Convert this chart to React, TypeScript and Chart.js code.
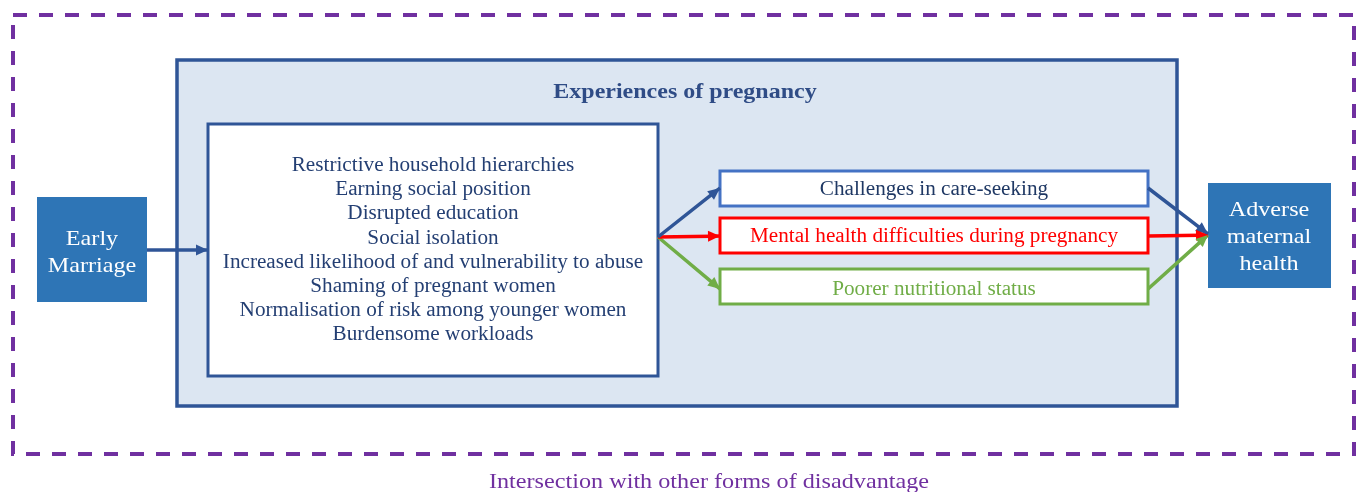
import React, { useEffect, useRef } from "react";
import { Chart, registerables } from "chart.js";

Chart.register(...registerables);

// Diagram coordinate space (matches the picture, y grows downward)
const spaceX = [0, 1359];
const spaceY = [0, 492];

// Dashed outer frame
const frameX = [13, 1354];
const frameY = [15, 454];
const frameLabel = "Intersection with other forms of disadvantage";
const frameLabelAt = [709, 482];

// Boxes: [x0, y0, x1, y1]
const boxNames = ["pregnancy", "factors", "early", "adverse", "care", "mental", "nutrition"];
const boxX0 = [177, 208, 37, 1208, 720, 720, 720];
const boxY0 = [60, 124, 197, 183, 171, 218, 269];
const boxX1 = [1177, 658, 147, 1331, 1148, 1148, 1148];
const boxY1 = [406, 376, 302, 288, 206, 253, 304];
const boxFill = ["#DCE6F2", "#FFFFFF", "#2E75B6", "#2E75B6", "#FFFFFF", "#FFFFFF", "#FFFFFF"];
const boxStroke = ["#2F5597", "#2F5597", null, null, "#4472C4", "#FF0000", "#70AD47"];
const boxStrokeWidth = [3.5, 3, 0, 0, 3, 3, 3];

// Text blocks
const titleText = "Experiences of pregnancy";
const titleAt = [685, 92];
const factorLines = [
  "Restrictive household hierarchies",
  "Earning social position",
  "Disrupted education",
  "Social isolation",
  "Increased likelihood of and vulnerability to abuse",
  "Shaming of pregnant women",
  "Normalisation of risk among younger women",
  "Burdensome workloads",
];
const factorX = 433;
const factorY = [166, 190, 214, 239, 263, 287, 311, 335];
const earlyLines = ["Early", "Marriage"];
const earlyX = 92;
const earlyY = [239, 266];
const adverseLines = ["Adverse", "maternal", "health"];
const adverseX = 1269;
const adverseY = [210, 237, 264];
const outcomeLabels = [
  "Challenges in care-seeking",
  "Mental health difficulties during pregnancy",
  "Poorer nutritional status",
];
const outcomeX = 934;
const outcomeY = [190, 237, 290];
const outcomeColors = ["#1F3864", "#FF0000", "#70AD47"];

// Arrows: start (x,y) -> end (x,y)
const arrowFromX = [147, 658, 658, 658, 1148, 1148, 1148];
const arrowFromY = [250, 237, 237, 237, 188, 236, 289];
const arrowToX = [208, 720, 720, 720, 1208, 1208, 1208];
const arrowToY = [250, 188, 236, 289, 234, 235, 235];
const arrowColors = ["#2F5597", "#2F5597", "#FF0000", "#70AD47", "#2F5597", "#FF0000", "#70AD47"];

const SERIF = "'Liberation Serif', 'DejaVu Serif', serif";

function stretchedText(ctx: any, text: string, x: number, y: number, sx: number) {
  ctx.save();
  ctx.translate(x, y);
  ctx.scale(sx, 1);
  ctx.fillText(text, 0, 0);
  ctx.restore();
}

const diagramPlugin = {
  id: "diagram",
  beforeDatasetsDraw(chart: any) {
    const { ctx, scales } = chart;
    const px = (v: number) => scales.x.getPixelForValue(v);
    const py = (v: number) => scales.y.getPixelForValue(v);
    ctx.save();
    // dashed frame
    ctx.strokeStyle = "#7030A0";
    ctx.lineWidth = 4;
    ctx.setLineDash([14, 12]);
    ctx.strokeRect(px(frameX[0]), py(frameY[0]), px(frameX[1]) - px(frameX[0]), py(frameY[1]) - py(frameY[0]));
    ctx.setLineDash([]);
    // boxes
    for (let i = 0; i < boxNames.length; i++) {
      const x0 = px(boxX0[i]);
      const y0 = py(boxY0[i]);
      const w = px(boxX1[i]) - x0;
      const h = py(boxY1[i]) - y0;
      ctx.fillStyle = boxFill[i];
      ctx.fillRect(x0, y0, w, h);
      if (boxStroke[i]) {
        ctx.strokeStyle = boxStroke[i] as string;
        ctx.lineWidth = boxStrokeWidth[i];
        ctx.strokeRect(x0, y0, w, h);
      }
    }
    // texts
    ctx.textAlign = "center";
    ctx.textBaseline = "middle";
    ctx.fillStyle = "#2F4C86";
    ctx.font = `bold 22px ${SERIF}`;
    stretchedText(ctx, titleText, px(titleAt[0]), py(titleAt[1]), 1.09);
    ctx.font = `20px ${SERIF}`;
    ctx.fillStyle = "#243F73";
    factorLines.forEach((t, i) => stretchedText(ctx, t, px(factorX), py(factorY[i]), 1.06));
    ctx.font = `22px ${SERIF}`;
    ctx.fillStyle = "#FFFFFF";
    earlyLines.forEach((t, i) => stretchedText(ctx, t, px(earlyX), py(earlyY[i]), 1.1));
    adverseLines.forEach((t, i) => stretchedText(ctx, t, px(adverseX), py(adverseY[i]), 1.1));
    ctx.font = `20px ${SERIF}`;
    outcomeLabels.forEach((t, i) => {
      ctx.fillStyle = outcomeColors[i];
      stretchedText(ctx, t, px(outcomeX), py(outcomeY[i]), 1.06);
    });
    ctx.fillStyle = "#7030A0";
    ctx.font = `22px ${SERIF}`;
    stretchedText(ctx, frameLabel, px(frameLabelAt[0]), py(frameLabelAt[1]), 1.1);
    ctx.restore();
  },
  afterDatasetsDraw(chart: any) {
    const { ctx } = chart;
    ctx.save();
    chart.data.datasets.forEach((ds: any, i: number) => {
      const meta = chart.getDatasetMeta(i);
      const pts = meta.data;
      if (pts.length < 2) return;
      const a = pts[pts.length - 2];
      const b = pts[pts.length - 1];
      const ang = Math.atan2(b.y - a.y, b.x - a.x);
      const len = 12;
      const half = 5.5;
      ctx.fillStyle = ds.borderColor;
      ctx.beginPath();
      ctx.moveTo(b.x, b.y);
      ctx.lineTo(b.x - len * Math.cos(ang) + half * Math.sin(ang), b.y - len * Math.sin(ang) - half * Math.cos(ang));
      ctx.lineTo(b.x - len * Math.cos(ang) - half * Math.sin(ang), b.y - len * Math.sin(ang) + half * Math.cos(ang));
      ctx.closePath();
      ctx.fill();
    });
    ctx.restore();
  },
};

export default function App() {
  const ref = useRef<HTMLCanvasElement>(null);
  useEffect(() => {
    document.body.style.margin = "0";
    if (!ref.current) return;
    const datasets = arrowFromX.map((_, i) => {
      const ang = Math.atan2(arrowToY[i] - arrowFromY[i], arrowToX[i] - arrowFromX[i]);
      return {
        label: "arrow" + i,
        data: [
          { x: arrowFromX[i], y: arrowFromY[i] },
          { x: arrowToX[i] - 8 * Math.cos(ang), y: arrowToY[i] - 8 * Math.sin(ang) },
          { x: arrowToX[i], y: arrowToY[i] },
        ],
        showLine: true,
        borderColor: arrowColors[i],
        backgroundColor: arrowColors[i],
        borderWidth: 3.5,
        pointRadius: 0,
        pointHoverRadius: 0,
      };
    });
    const chart = new Chart(ref.current, {
      type: "scatter",
      data: { datasets },
      options: {
        animation: false,
        responsive: false,
        devicePixelRatio: 1,
        layout: { padding: 0 },
        plugins: { legend: { display: false }, tooltip: { enabled: false }, title: { display: false } },
        scales: {
          x: { type: "linear", min: spaceX[0], max: spaceX[1], display: false },
          y: { type: "linear", min: spaceY[0], max: spaceY[1], reverse: true, display: false },
        },
        events: [],
      },
      plugins: [diagramPlugin],
    });
    return () => chart.destroy();
  }, []);
  return (
    <div style={{ position: "fixed", left: 0, top: 0, width: 1359, height: 492, background: "#FFFFFF" }}>
      <canvas ref={ref} width={1359} height={492} />
    </div>
  );
}
